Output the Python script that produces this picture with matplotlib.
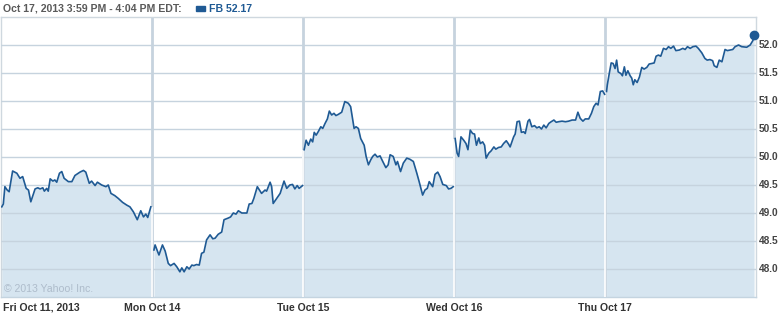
import matplotlib
matplotlib.use("Agg")
import matplotlib.pyplot as plt

# ---- data (minutes since 9:30 open, price) ----
day_labels = ["Fri Oct 11, 2013", "Mon Oct 14", "Tue Oct 15", "Wed Oct 16", "Thu Oct 17"]
minutes_per_day = 390

fri_t = [2,6,10,16,21,30,41,49,56,65,71,77,88,95,101,108,112,118,122,127,134,139,144,151,157,163,174,183,191,204,
         213,219,228,234,243,249,260,271,277,284,294,303,314,325,333,342,352,361,368,374,379,387]
fri_p = [49.11,49.16,49.47,49.41,49.38,49.75,49.71,49.62,49.65,49.44,49.41,49.20,49.43,49.45,49.43,49.45,49.39,49.44,
         49.39,49.61,49.57,49.59,49.55,49.71,49.74,49.62,49.56,49.56,49.67,49.73,49.76,49.73,49.53,49.57,49.49,49.55,
         49.50,49.47,49.50,49.35,49.31,49.26,49.19,49.14,49.11,49.02,48.88,49.04,48.93,48.98,48.92,49.11]

mon_t = [5,8,14,18,27,34,42,48,57,64,72,77,83,90,96,103,108,115,122,128,134,141,150,157,163,171,180,186,197,203,
         210,217,223,232,245,251,258,263,272,283,292,296,305,309,313,322,331,341,348,356,363,369,375,380,389]
mon_p = [48.34,48.43,48.32,48.25,48.43,48.32,48.10,48.06,48.10,48.04,47.95,48.02,47.95,48.04,48.00,48.07,48.06,48.08,
         48.07,48.28,48.30,48.52,48.61,48.54,48.55,48.62,48.66,48.88,48.91,48.93,49.00,48.98,49.04,49.00,49.00,49.16,
         49.17,49.26,49.47,49.35,49.41,49.39,49.55,49.47,49.17,49.26,49.35,49.57,49.44,49.50,49.51,49.43,49.49,49.44,49.49]

tue_t = [3,8,14,20,25,29,34,40,46,51,57,63,68,74,80,85,91,100,108,117,123,132,137,143,149,158,163,169,175,180,
         186,192,199,206,214,220,225,233,240,244,252,259,268,276,285,294,300,309,315,321,326,331,335,341,348,354,
         361,370,376,382,388]
tue_p = [50.13,50.30,50.21,50.32,50.27,50.44,50.39,50.46,50.54,50.51,50.60,50.68,50.82,50.75,50.78,50.74,50.76,50.80,
         50.99,50.96,50.90,50.51,50.54,50.51,50.33,50.21,50.01,49.86,49.95,50.01,50.05,50.00,50.02,49.92,49.81,49.86,
         50.04,50.01,49.86,49.92,49.74,49.89,49.98,49.96,49.92,49.71,49.56,49.32,49.41,49.44,49.56,49.51,49.47,49.69,
         49.73,49.65,49.51,49.49,49.43,49.44,49.47]

wed_t = [3,8,12,18,25,31,36,42,48,53,58,64,68,74,79,83,90,96,103,108,115,122,128,135,141,145,154,158,163,169,
         174,180,184,191,195,201,208,214,220,226,232,238,245,251,258,264,270,279,288,296,305,314,320,326,333,339,
         348,355,361,367,372,378,384,389]
wed_p = [50.33,50.07,50.01,50.36,50.30,50.24,50.13,50.48,50.42,50.41,50.21,50.34,50.24,50.27,50.21,49.98,50.07,50.11,
         50.18,50.14,50.17,50.18,50.24,50.29,50.23,50.18,50.36,50.41,50.63,50.64,50.44,50.45,50.42,50.64,50.67,50.54,
         50.56,50.52,50.54,50.50,50.57,50.52,50.60,50.63,50.66,50.62,50.63,50.64,50.63,50.64,50.66,50.66,50.80,50.69,
         50.64,50.68,50.68,50.78,50.90,50.96,50.93,51.17,51.18,51.12]

thu_t = [4,6,11,16,21,26,30,34,41,45,50,54,59,65,69,73,77,83,89,95,101,108,114,121,127,132,138,144,151,158,
         164,170,177,183,192,201,207,213,220,227,235,241,250,258,264,271,278,282,289,295,302,310,316,323,330,336,
         345,353,366,375,382,385]
thu_p = [51.17,51.29,51.49,51.68,51.67,51.58,51.73,51.52,51.49,51.45,51.61,51.46,51.54,51.45,51.41,51.29,51.38,51.33,
         51.43,51.60,51.57,51.60,51.66,51.67,51.68,51.80,51.82,51.80,51.94,51.92,51.97,51.94,51.98,51.90,51.91,51.94,
         51.92,51.97,51.94,51.97,51.98,51.94,51.86,51.76,51.73,51.74,51.72,51.63,51.60,51.73,51.70,51.92,51.90,51.91,
         51.92,51.97,52.00,51.97,51.96,52.00,52.08,52.17]

y_ticks = [48.0, 48.5, 49.0, 49.5, 50.0, 50.5, 51.0, 51.5, 52.0]
y_min, y_max = 47.5, 52.5
ticker = "FB"
last_price = 52.17
title_text = "Oct 17, 2013 3:59 PM - 4:04 PM EDT:"
copyright_text = "\u00a9 2013 Yahoo! Inc."

days_t = [fri_t, mon_t, tue_t, wed_t, thu_t]
days_p = [fri_p, mon_p, tue_p, wed_p, thu_p]

# ---- style ----
LINE = "#1f5a94"
FILL = "#d6e5f0"
GRID = "#c6d3de"
FONT = ["Liberation Sans", "DejaVu Sans"]

W, H = 779, 313
fig = plt.figure(figsize=(W / 100, H / 100), dpi=100)
ax = fig.add_axes([1 / W, 1 - 297 / H, 755 / W, 280 / H])
ax.set_xlim(0, minutes_per_day * len(day_labels))
ax.set_ylim(y_min, y_max)

for yv in y_ticks:
    ax.axhline(yv, color=GRID, lw=1, zorder=3)

for i in range(1, len(day_labels)):
    ax.axvline(i * minutes_per_day, color=GRID, lw=2, zorder=1)

for i, (t, p) in enumerate(zip(days_t, days_p)):
    x = [i * minutes_per_day + v for v in t]
    ax.fill_between(x, p, y_min, color=FILL, lw=0, zorder=2)
    ax.plot(x, p, color=LINE, lw=1.2, zorder=5, solid_joinstyle="round")

for i in range(1, len(day_labels)):
    top = max(days_p[i - 1][-1], days_p[i][0])
    ax.vlines(i * minutes_per_day, y_min, top, color="white", lw=1.2, zorder=4)

last_x = (len(day_labels) - 1) * minutes_per_day + thu_t[-1]
ax.plot([last_x], [thu_p[-1]], "o", color=LINE, ms=6, zorder=6, clip_on=False)

ax.set_xticks([])
ax.set_yticks([])
for s in ["top", "left", "right"]:
    ax.spines[s].set_color("#cfd8df")
    ax.spines[s].set_linewidth(1)
ax.spines["bottom"].set_color("#c4d4e0")
ax.spines["bottom"].set_linewidth(1)

# right tick labels
for yv in y_ticks:
    ax.text(1.0 + 2.5 / 755, yv, f"{yv:.1f}", transform=ax.get_yaxis_transform(), ha="left", va="center",
            fontsize=7.3, fontweight="bold", color="#444444", family=FONT)

# bottom day labels
for i, lab in enumerate(day_labels):
    xpos = i * minutes_per_day
    ha = "center"
    if i == 0:
        ha = "left"
        xpos = 4
    ax.text(xpos, -11 / 280, lab, transform=ax.get_xaxis_transform(), ha=ha, va="center",
            fontsize=7.6, fontweight="bold", color="#333333", family=FONT)

ax.text(8, 47.64, copyright_text, ha="left", va="center", fontsize=7.6, color="#aebccb", family=FONT, zorder=6)

# header
fig.text(3 / W, 1 - 8.5 / H, title_text, ha="left", va="center", fontsize=7.6, fontweight="bold",
         color="#5a5a5a", family=FONT)
fig.patches.append(plt.Rectangle((196 / W, 1 - 10.5 / H), 9 / W, 4 / H, transform=fig.transFigure,
                                 color=LINE, figure=fig))
fig.text(209 / W, 1 - 8.5 / H, f"{ticker} {last_price:.2f}", ha="left", va="center", fontsize=7.6,
         fontweight="bold", color=LINE, family=FONT)

fig.savefig("out.png", dpi=100)
